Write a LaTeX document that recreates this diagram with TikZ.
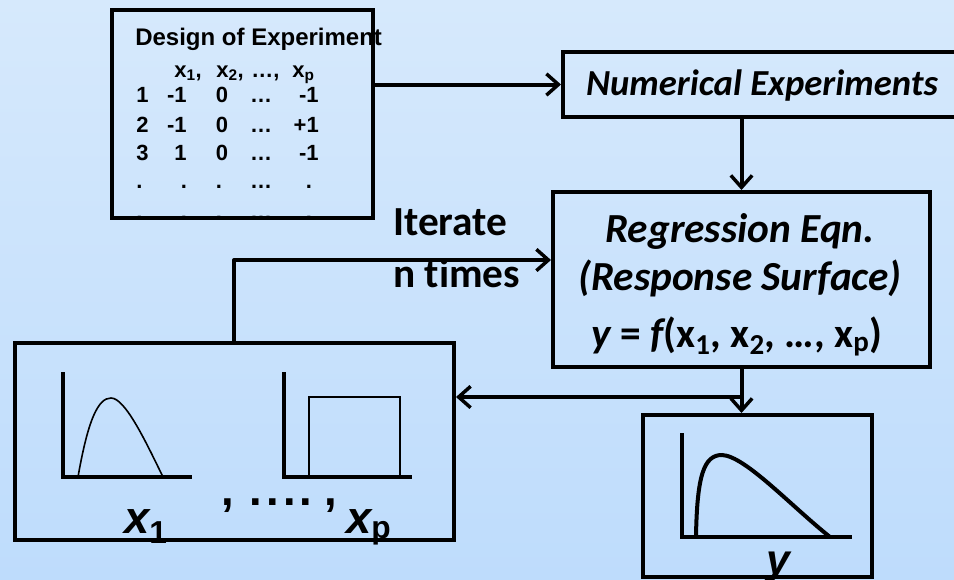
\documentclass[tikz,border=0pt]{standalone}
\usepackage{fontspec}
\setmainfont{Liberation Sans}
\newfontfamily\calfont{Carlito}[Ligatures=NoCommon]
\usetikzlibrary{arrows.meta,fit}
\definecolor{bgtop}{RGB}{214,233,252}
\definecolor{bgbot}{RGB}{190,220,252}
\tikzset{
  box/.style={draw=black, line width=3pt, inner sep=0pt},
  conn/.style={draw=black, line width=3pt, line cap=round, line join=round,
    -{Straight Barb[length=9pt,width=16pt,line width=2.6pt]}},
  axisline/.style={line width=3pt},
  thinline/.style={line width=1.2pt},
  doetxt/.style={inner sep=0pt, font=\fontsize{16.5}{18}\selectfont\bfseries},
  caltxt/.style={inner sep=0pt, font=\fontsize{31}{34}\selectfont\calfont\bfseries\itshape},
  bigx/.style={inner sep=0pt, font=\fontsize{34}{36}\selectfont\bfseries\itshape},
}
\begin{document}
\begin{tikzpicture}[x=0.75pt,y=-0.75pt]
\useasboundingbox (0,0) rectangle (954,579);
\begin{scope}[y=0.75pt]
  \fill[top color=bgtop,bottom color=bgbot] (0,0) rectangle (954,-579);
\end{scope}
\clip (0,0) rectangle (954,579);

% ---------- Design of experiment table ----------
\node[doetxt, font=\fontsize{18}{20}\selectfont\bfseries, anchor=base west] (doetitle) at (135,45) {Design of Experiment};
\node[doetxt, anchor=base west] (h1) at (174,77) {x\textsubscript{1},};
\node[doetxt, anchor=base west] (h2) at (216,77) {x\textsubscript{2},};
\node[doetxt, anchor=base west] (h3) at (251,77) {…,};
\node[doetxt, anchor=base west] (h4) at (292,77) {x\textsubscript{p}};
\foreach \yy/\a/\b/\c/\d/\e/\n in {102/1/-1/0/…/-1/1, 132/2/-1/0/…/+1/2, 160/3/1/0/…/-1/3}{
  \node[doetxt, anchor=base west] (r\n a) at (136,\yy) {\a};
  \node[doetxt, anchor=base east] (r\n b) at (187,\yy) {\b};
  \node[doetxt, anchor=base] (r\n c) at (222,\yy) {\c};
  \node[doetxt, anchor=base] (r\n d) at (261,\yy) {\d};
  \node[doetxt, anchor=base east] (r\n e) at (319,\yy) {\e};
}
\foreach \yy/\n in {188/4, 219/5}{
  \node[doetxt, anchor=base west] (r\n a) at (136,\yy) {.};
  \node[doetxt, anchor=base] (r\n b) at (184,\yy) {.};
  \node[doetxt, anchor=base] (r\n c) at (219,\yy) {.};
  \node[doetxt, anchor=base] (r\n d) at (261,\yy) {…};
  \node[doetxt, anchor=base] (r\n e) at (309,\yy) {.};
}
\node[box, fit={(112,10)(373,218)}] (doe) {};

% ---------- other boxes ----------
\node[box, fit={(563,52)(970,117)}] (num) {};
\node[caltxt, font=\fontsize{27.5}{30}\selectfont\calfont\bfseries\itshape, anchor=base] (numtxt) at (762,95) {Numerical Experiments};

\node[box, fit={(553,192)(930,367)}] (reg) {};
\node[caltxt, anchor=base] (reg1) at (740,242) {Regression Eqn.};
\node[caltxt, anchor=base] (reg2) at (740,290) {(Response Surface)};
\node[caltxt, anchor=base] (reg3) at (737,347) {{\itshape y} {\upshape = }{\itshape f}{\upshape(x\textsubscript{1}, x\textsubscript{2}, …, x\textsubscript{p})}};

\node[box, fit={(15,343)(454,540)}] (inp) {};
\node[box, fit={(643,415)(872,577)}] (out) {};

% ---------- plots in the input box ----------
\draw[axisline] (63,372) -- (63,477) -- (192,477);
\draw[thinline] (78,477) .. controls (88,420) and (98,398) .. (111,398) .. controls (125,398) and (145,440) .. (163,477);
\draw[axisline] (284,372) -- (284,477) -- (412,477);
\draw[thinline] (309,477) -- (309,397) -- (400,397) -- (400,477);
\node[bigx, anchor=base west] (x1) at (124,533) {x\textsubscript{\upshape 1}};
\node[bigx, anchor=base west] (xp) at (346,533) {x\textsubscript{\upshape p}};
\node[bigx, font=\fontsize{34}{36}\selectfont\bfseries, anchor=base west] (sep) at (221,505) {,\hspace{12pt}.\hspace{3pt}.\hspace{3pt}.\hspace{3pt}.\hspace{9pt},};

% ---------- plot in the output box ----------
\draw[axisline] (682,433) -- (682,537) -- (852,537);
\draw[axisline] (696,537) .. controls (697,475) and (704,455) .. (722,455) .. controls (745,456) and (790,505) .. (830,537);
\node[bigx, font=\fontsize{32}{34}\selectfont\bfseries\itshape, anchor=base] (ylab) at (778,574) {y};

% ---------- iterate label ----------
\node[caltxt, font=\fontsize{31}{34}\selectfont\calfont\bfseries, anchor=base west] (it1) at (393,235) {Iterate};
\node[caltxt, font=\fontsize{31}{34}\selectfont\calfont\bfseries, anchor=base west] (it2) at (393,287) {n times};

% ---------- connectors ----------
\coordinate (br) at (741.5,397);
\coordinate (lp) at (234,260);
\draw[conn] (doe.east |- num.west) -- (num.west);
\draw[conn] (num.south -| reg.north) -- (reg.north);
\draw[conn] (reg.south) -- (reg.south |- out.north);
\draw[conn] (br) -- (br -| inp.east);
\draw[conn] (inp.north -| lp) -- (lp) -- (lp -| reg.west);
\end{tikzpicture}
\end{document}
